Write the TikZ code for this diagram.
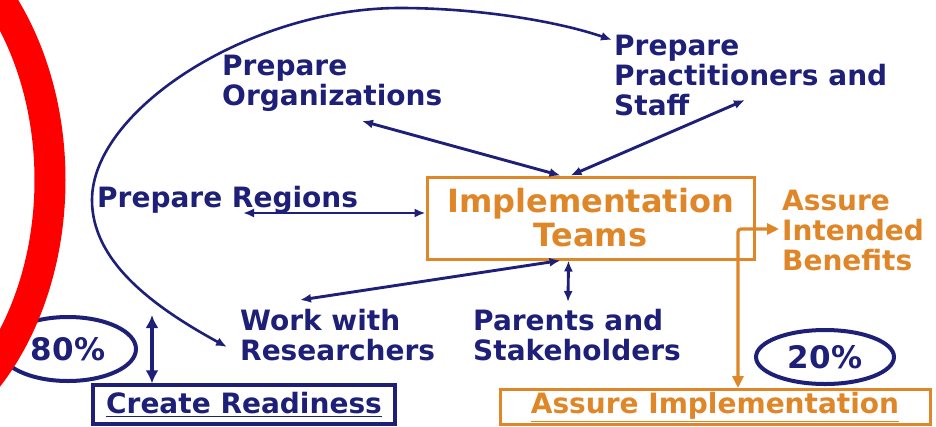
\documentclass[tikz,border=0pt]{standalone}
\usepackage{fontspec}
\setmainfont{DejaVu Sans}
\usetikzlibrary{arrows.meta,shapes.geometric,calc}
\definecolor{navy}{RGB}{30,32,120}
\definecolor{orng}{RGB}{222,134,40}
\begin{document}
\begin{tikzpicture}[x=1pt,y=1pt,
  lbl/.style={font=\bfseries\fontsize{28}{30}\selectfont, text=navy, align=left, inner sep=0pt, anchor=north west},
  olbl/.style={lbl, text=orng},
  link/.style={draw=navy, line width=2.9, <->, >={Latex[length=11pt,width=9pt]}},
  pct/.style={ellipse, draw=navy, line width=4, inner sep=0pt, text=navy, font=\bfseries\fontsize{31}{31}\selectfont},
  bbox/.style={draw=navy, line width=3.2, inner sep=0pt, text=navy, font=\bfseries\fontsize{28}{30}\selectfont},
  obox/.style={draw=orng, line width=3, inner sep=0pt, text=orng, font=\bfseries\fontsize{28}{30}\selectfont}]
\fill[white] (0,0) rectangle (936,-426);
\useasboundingbox (0,0) rectangle (936,-426);

\node[lbl] (org) at (222,-55) {Prepare\\Organizations};
\node[lbl] (prac) at (614,-35) {Prepare\\Practitioners and\\Staff};
\node[lbl] (reg) at (97,-186) {Prepare Regions};
\node[obox, minimum width=327, minimum height=82, align=center, font=\bfseries\fontsize{32}{34}\selectfont] (impl) at (590.5,-218) {Implementation\\Teams};
\node[olbl] (ben) at (782,-190) {Assure\\Intended\\Benefits};
\node[lbl] (res) at (240,-309) {Work with\\Researchers};
\node[lbl] (par) at (473,-309) {Parents and\\Stakeholders};
\node[pct, minimum width=136, minimum height=64] (p80) at (68,-349) {80\%};
\node[pct, minimum width=138, minimum height=54] (p20) at (825,-357) {20\%};
\node[bbox, minimum width=302, minimum height=39] (cr) at (244,-404.5) {\underline{Create Readiness}};
\node[obox, minimum width=430, minimum height=35] (ai) at (715,-407) {\underline{Assure Implementation}};

\coordinate (orgend) at (362,-121);
\coordinate (pracend) at (745,-100);
\coordinate (regend) at (243,-213);
\coordinate (resend) at (300,-300);
\coordinate (parend) at (568,-302);
\coordinate (arcA) at (227,-347);
\coordinate (arcB) at (612,-40);
\coordinate (benend) at (779,-229);
\coordinate (crtop) at (152,-315);

\draw[link] (orgend) -- ([xshift=-30]impl.north);
\draw[link] (pracend) -- ([xshift=-20]impl.north);
\draw[link] (regend) -- ([yshift=5]impl.west);
\draw[link] (resend) -- ([xshift=-30]impl.south);
\draw[link] (parend) -- ([xshift=-22]impl.south);
\draw[link, line width=4.5, >={Latex[length=13pt,width=13pt]}] ([xshift=-92]cr.north) -- (crtop);
\draw[link, line width=2.6] (arcA) .. controls (150,-305) and (92,-260) .. (92,-200)
  .. controls (92,-110) and (250,-8) .. (400,-8)
  .. controls (480,-8) and (560,-22) .. (arcB);
\draw[draw=orng, line width=3.2, <->, >={Triangle[length=12pt,width=11pt]}, rounded corners=3] ([xshift=23]ai.north) |- (benend);

\begin{scope}
\clip (0,0) rectangle (936,-426);
\draw[red, line width=31] (-150,-180) ellipse [x radius=200, y radius=272];
\end{scope}
\end{tikzpicture}
\end{document}
